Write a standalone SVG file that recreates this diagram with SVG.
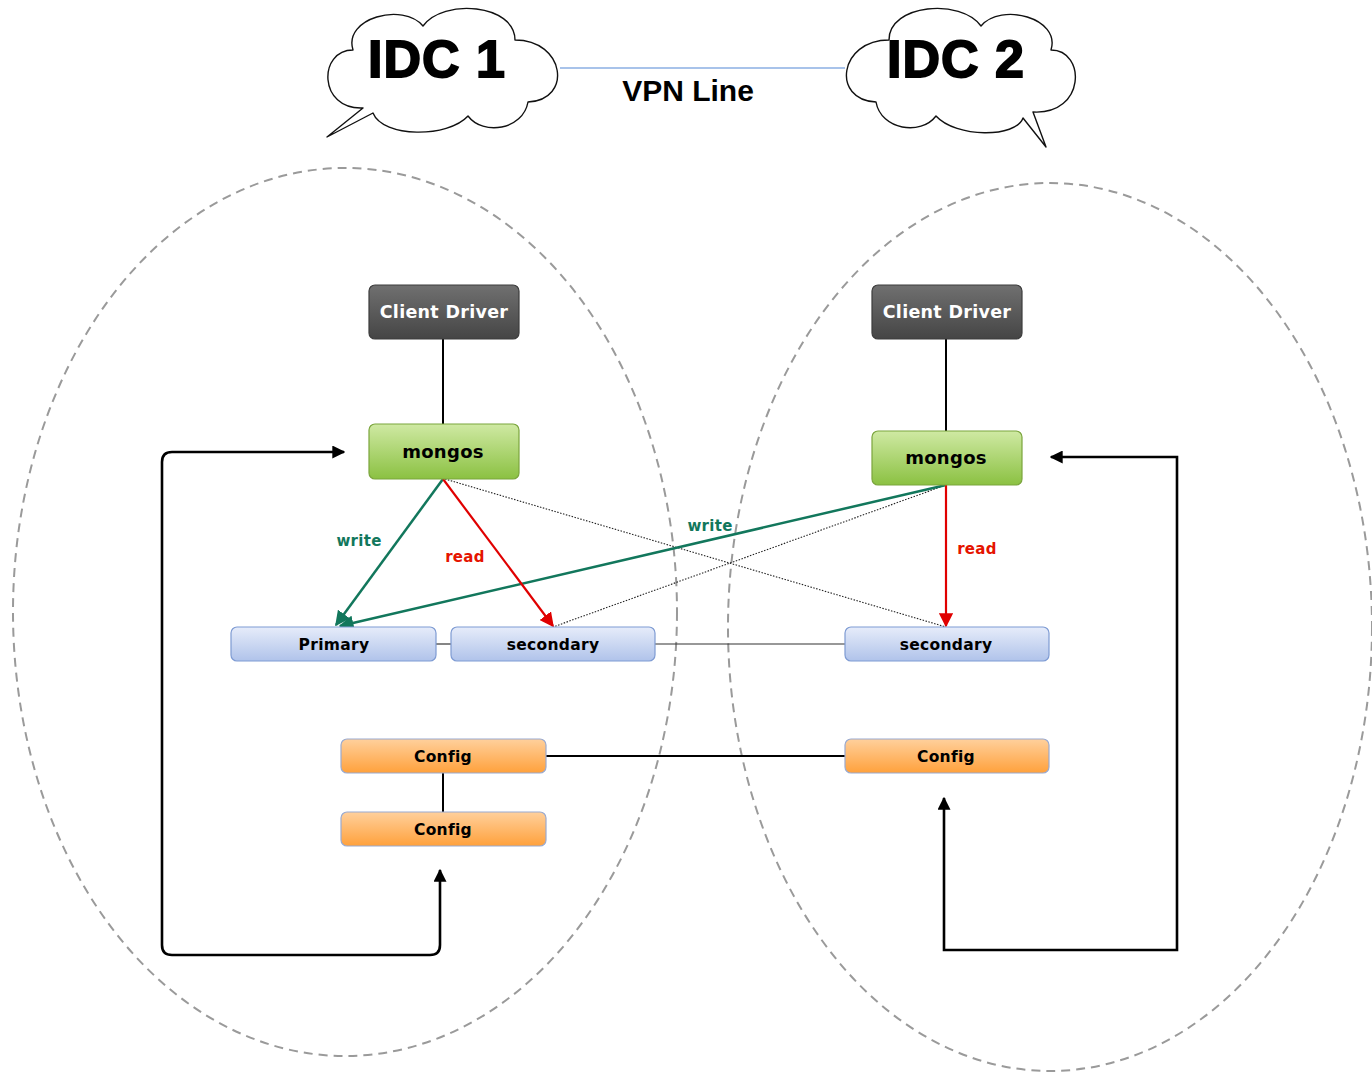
<svg xmlns="http://www.w3.org/2000/svg" width="1372" height="1075" viewBox="0 0 1372 1075">
<defs>
<style>
.zone{fill:none;stroke:#9a9a9a;stroke-width:2;stroke-dasharray:9 6}
.cloud{fill:#fff;stroke:#111;stroke-width:1.4;stroke-linejoin:round}
.idc{font-family:"Liberation Sans",Arial,sans-serif;font-weight:bold;font-size:52px;fill:#000;stroke:#000;stroke-width:1.8;text-anchor:middle;letter-spacing:1px}
.vpn{font-family:"Liberation Sans",Arial,sans-serif;font-weight:bold;font-size:30px;fill:#000;text-anchor:middle}
.lbl{font-family:"DejaVu Sans",Verdana,sans-serif;font-weight:bold;text-anchor:middle;letter-spacing:0.3px}
.cd{font-size:17.5px;fill:#fff}
.mg{font-size:18px;fill:#000}
.sm{font-size:15.5px;fill:#000}
.edge{font-size:15px}
.cdbox{fill:url(#gCD);stroke:#3d3d3d;stroke-width:1.2}
.mgbox{fill:url(#gMG);stroke:#7ba53d;stroke-width:1.2}
.rsbox{fill:url(#gRS);stroke:#7e9bd3;stroke-width:1.2}
.cfbox{fill:url(#gCF);stroke:#9aaad0;stroke-width:1.2}
.blk{fill:none;stroke:#000;stroke-width:2}
.thin{fill:none;stroke:#333;stroke-width:1.2}
.dot{fill:none;stroke:#222;stroke-width:1.1;stroke-dasharray:1.5 1.5}
.wr{fill:none;stroke:#12775c;stroke-width:2.5}
.rd{fill:none;stroke:#e00000;stroke-width:2.2}
.loop{fill:none;stroke:#000;stroke-width:2.6}
</style>
<linearGradient id="gCD" x1="0" y1="0" x2="0" y2="1"><stop offset="0" stop-color="#707070"/><stop offset="1" stop-color="#454545"/></linearGradient>
<linearGradient id="gMG" x1="0" y1="0" x2="0" y2="1"><stop offset="0" stop-color="#cfe9a3"/><stop offset="1" stop-color="#8bc142"/></linearGradient>
<linearGradient id="gRS" x1="0" y1="0" x2="0" y2="1"><stop offset="0" stop-color="#e6ecfa"/><stop offset="1" stop-color="#b0c3ea"/></linearGradient>
<linearGradient id="gCF" x1="0" y1="0" x2="0" y2="1"><stop offset="0" stop-color="#ffd09c"/><stop offset="1" stop-color="#ffa13c"/></linearGradient>
<marker id="aG" viewBox="0 0 10 10" refX="9" refY="5" markerWidth="6" markerHeight="6" orient="auto" markerUnits="strokeWidth"><path d="M0,0 L10,5 L0,10 Z" fill="#12775c"/></marker>
<marker id="aR" viewBox="0 0 10 10" refX="9" refY="5" markerWidth="6.5" markerHeight="6.5" orient="auto" markerUnits="strokeWidth"><path d="M0,0 L10,5 L0,10 Z" fill="#e00000"/></marker>
<marker id="aK" viewBox="0 0 10 10" refX="9" refY="5" markerWidth="5" markerHeight="5" orient="auto-start-reverse" markerUnits="strokeWidth"><path d="M0,0 L10,5 L0,10 Z" fill="#000"/></marker>
</defs>
<rect width="1372" height="1075" fill="#fff"/>

<g id="zones">
<ellipse class="zone" cx="345" cy="612" rx="332" ry="444"/>
<ellipse class="zone" cx="1050" cy="627" rx="322" ry="444"/>
</g>

<g id="idc1">
<path class="cloud" transform="translate(443,70)" d="M -90,-20 C -100,-52 -40,-68 -20,-44 C 0,-72 72,-66 72,-30 C 122,-30 130,30 85,32 C 80,60 40,66 25,46 C 5,68 -60,68 -70,43 L -116,67 L -80,38 C -125,40 -125,-20 -90,-20 Z"/>
<text class="idc" x="437" y="77">IDC 1</text>
</g>
<g id="idc2">
<path class="cloud" transform="translate(961,70) scale(-1,1)" d="M -90,-20 C -100,-52 -40,-68 -20,-44 C 0,-72 72,-66 72,-30 C 122,-30 130,30 85,32 C 80,60 40,66 25,46 C 5,68 -55,68 -62,48 L -85,77 L -72,42 C -125,45 -125,-20 -90,-20 Z"/>
<text class="idc" x="956" y="77">IDC 2</text>
</g>

<g id="connectors">
<line x1="560" y1="68" x2="845" y2="68" stroke="#a8c3ea" stroke-width="2"/>
<line class="blk" x1="443" y1="339" x2="443" y2="424"/>
<line class="blk" x1="946" y1="339" x2="946" y2="431"/>
<line class="thin" x1="436" y1="644" x2="451" y2="644"/>
<line class="thin" x1="655" y1="644" x2="845" y2="644"/>
<line class="blk" x1="546" y1="756" x2="845" y2="756"/>
<line class="blk" x1="443" y1="773" x2="443" y2="812"/>
<line class="dot" x1="445" y1="479" x2="946" y2="627"/>
<line class="dot" x1="946" y1="485" x2="553" y2="627"/>
<line class="wr" x1="443" y1="479" x2="336" y2="625" marker-end="url(#aG)"/>
<line class="wr" x1="946" y1="485" x2="340" y2="626" marker-end="url(#aG)"/>
<line class="rd" x1="443" y1="479" x2="553" y2="626" marker-end="url(#aR)"/>
<line class="rd" x1="946" y1="485" x2="946" y2="626" marker-end="url(#aR)"/>
<path class="loop" d="M 440,870 L 440,945 Q 440,955 430,955 L 172,955 Q 162,955 162,945 L 162,462 Q 162,452 172,452 L 344,452" marker-start="url(#aK)" marker-end="url(#aK)"/>
<path class="loop" d="M 1051,457 L 1177,457 L 1177,950 L 944,950 L 944,798" marker-start="url(#aK)" marker-end="url(#aK)"/>
<text class="vpn" x="688" y="101">VPN Line</text>
<text class="lbl edge" x="359" y="546" fill="#12775c">write</text>
<text class="lbl edge" x="710" y="531" fill="#12775c">write</text>
<text class="lbl edge" x="465" y="562" fill="#e51400">read</text>
<text class="lbl edge" x="977" y="554" fill="#e51400">read</text>
</g>

<g id="client-driver-1"><rect class="cdbox" x="369" y="285" width="150" height="54" rx="6"/><text class="lbl cd" x="444" y="318">Client Driver</text></g>
<g id="client-driver-2"><rect class="cdbox" x="872" y="285" width="150" height="54" rx="6"/><text class="lbl cd" x="947" y="318">Client Driver</text></g>
<g id="mongos-1"><rect class="mgbox" x="369" y="424" width="150" height="55" rx="6"/><text class="lbl mg" x="443" y="458">mongos</text></g>
<g id="mongos-2"><rect class="mgbox" x="872" y="431" width="150" height="54" rx="6"/><text class="lbl mg" x="946" y="464">mongos</text></g>
<g id="primary"><rect class="rsbox" x="231" y="627" width="205" height="34" rx="6"/><text class="lbl sm" x="334" y="650">Primary</text></g>
<g id="secondary-1"><rect class="rsbox" x="451" y="627" width="204" height="34" rx="6"/><text class="lbl sm" x="553" y="650">secondary</text></g>
<g id="secondary-2"><rect class="rsbox" x="845" y="627" width="204" height="34" rx="6"/><text class="lbl sm" x="946" y="650">secondary</text></g>
<g id="config-1"><rect class="cfbox" x="341" y="739" width="205" height="34" rx="6"/><text class="lbl sm" x="443" y="762">Config</text></g>
<g id="config-2"><rect class="cfbox" x="341" y="812" width="205" height="34" rx="6"/><text class="lbl sm" x="443" y="835">Config</text></g>
<g id="config-3"><rect class="cfbox" x="845" y="739" width="204" height="34" rx="6"/><text class="lbl sm" x="946" y="762">Config</text></g>
</svg>
